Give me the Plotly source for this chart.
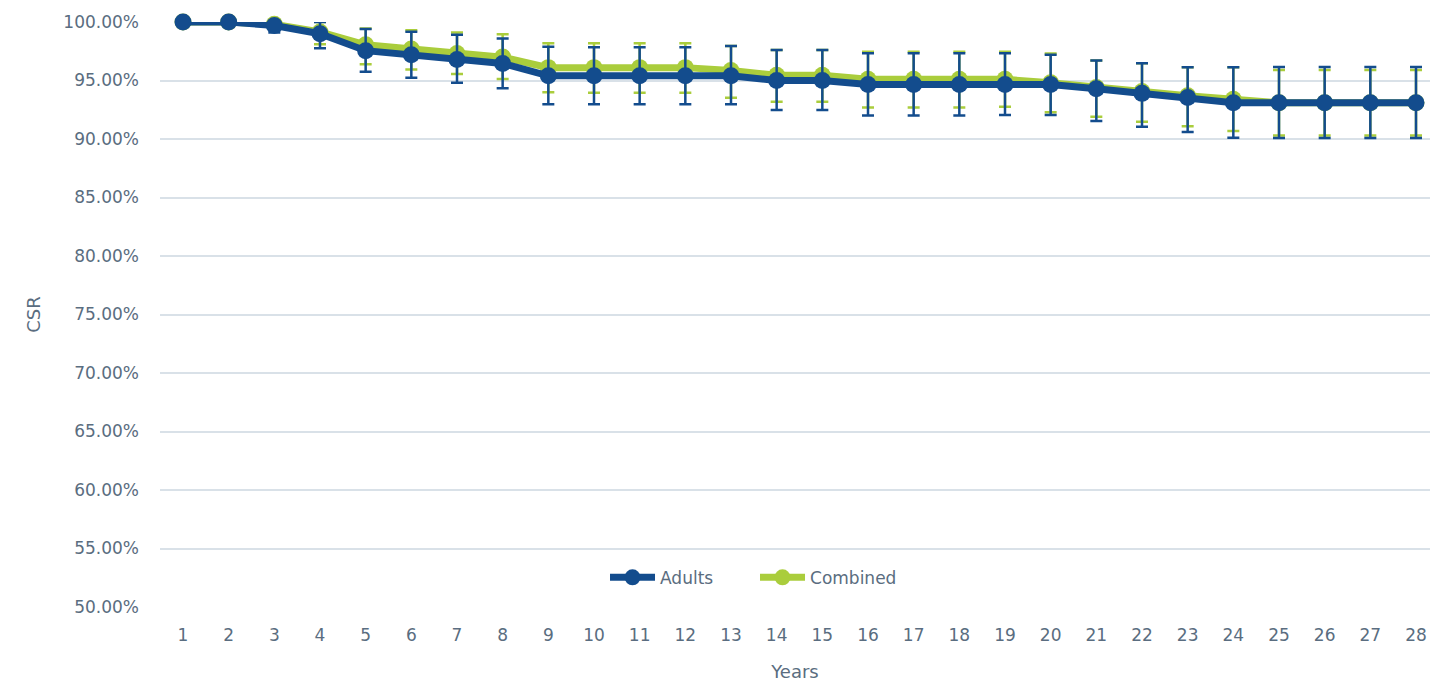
import plotly.graph_objects as go

years = list(range(1, 29))

adults = [100.0, 100.0, 99.7, 99.0, 97.55, 97.2, 96.8, 96.45, 95.4, 95.4, 95.4, 95.4, 95.4, 95.0,
          95.0, 94.65, 94.65, 94.65, 94.65, 94.65, 94.3, 93.9, 93.55, 93.1, 93.1, 93.1, 93.1, 93.1]
adults_upper = [100.0, 100.0, 100.0, 100.0, 99.4, 99.17, 98.9, 98.6, 97.89, 97.84, 97.84, 97.84, 97.95, 97.6,
                97.6, 97.32, 97.32, 97.32, 97.32, 97.2, 96.7, 96.47, 96.13, 96.13, 96.15, 96.15, 96.15, 96.15]
adults_lower = [100.0, 100.0, 99.1, 97.75, 95.75, 95.24, 94.8, 94.33, 92.97, 92.97, 92.97, 92.97, 92.97, 92.48,
                92.48, 92.0, 92.0, 92.0, 92.05, 92.05, 91.54, 91.05, 90.6, 90.1, 90.08, 90.08, 90.08, 90.08]

combined = [100.0, 100.0, 99.8, 99.15, 98.05, 97.7, 97.3, 97.0, 96.1, 96.1, 96.1, 96.1, 95.85, 95.45,
            95.45, 95.1, 95.1, 95.1, 95.1, 94.8, 94.4, 94.05, 93.7, 93.4, 93.1, 93.1, 93.1, 93.1]
combined_upper = [100.0, 100.0, 100.0, 100.0, 99.45, 99.3, 99.1, 98.95, 98.18, 98.18, 98.18, 98.18, 97.95, 97.6,
                  97.6, 97.46, 97.46, 97.46, 97.46, 97.3, 96.7, 96.47, 96.13, 96.13, 95.9, 95.9, 95.9, 95.9]
combined_lower = [100.0, 100.0, 99.4, 98.1, 96.38, 95.95, 95.56, 95.13, 93.99, 93.96, 93.96, 93.96, 93.53, 93.19,
                  93.19, 92.7, 92.7, 92.7, 92.76, 92.28, 91.9, 91.48, 91.1, 90.68, 90.3, 90.3, 90.3, 90.3]

y_ticks = [50, 55, 60, 65, 70, 75, 80, 85, 90, 95, 100]
y_tick_text = [f"{v:.2f}%" for v in y_ticks]

BLUE = "#134c8d"
GREEN = "#aacd3c"
TEXT = "#5a6d80"
GRID = "#d9e1e8"
FONT = "DejaVu Sans"


def err(vals, up, lo):
    return dict(type="data", symmetric=False,
                array=[u - v for u, v in zip(up, vals)],
                arrayminus=[v - l for v, l in zip(vals, lo)])


fig = go.Figure()
fig.add_trace(go.Scatter(
    x=years, y=combined, name="Combined", mode="lines+markers",
    line=dict(color=GREEN, width=7), marker=dict(color=GREEN, size=17),
    error_y=dict(**err(combined, combined_upper, combined_lower), color=GREEN, thickness=2.5, width=6),
    cliponaxis=False,
))
fig.add_trace(go.Scatter(
    x=years, y=adults, name="Adults", mode="lines+markers",
    line=dict(color=BLUE, width=7), marker=dict(color=BLUE, size=17),
    error_y=dict(**err(adults, adults_upper, adults_lower), color=BLUE, thickness=2.5, width=6),
    cliponaxis=False,
))

fig.update_layout(
    width=1430, height=685,
    margin=dict(l=160, r=0, t=22, b=78),
    paper_bgcolor="white", plot_bgcolor="white",
    font=dict(family=FONT, color=TEXT, size=17),
    showlegend=True,
    legend=dict(orientation="h", x=0.3504, xanchor="left", y=0.05, yanchor="middle",
                traceorder="reversed", font=dict(size=17, color=TEXT), bgcolor="rgba(0,0,0,0)",
                itemwidth=45, entrywidth=90, entrywidthmode="pixels"),
    xaxis=dict(range=[0.4964, 28.3066], tickmode="array", tickvals=years, automargin=False,
               ticktext=[str(y) for y in years], showgrid=False, zeroline=False, showline=False,
               ticks="", ticklabelstandoff=16, tickfont=dict(size=17, color=TEXT),
               title=dict(text="Years", font=dict(size=18, color=TEXT), standoff=21)),
    yaxis=dict(range=[50, 100], tickmode="array", tickvals=y_ticks, ticktext=y_tick_text, automargin=False,
               showgrid=True, gridcolor=GRID, gridwidth=2, zeroline=False, showline=False,
               ticks="", ticklabelstandoff=20, tickfont=dict(size=17, color=TEXT),
               title=dict(text="CSR", font=dict(size=18, color=TEXT), standoff=18)),
)

fig.write_html(
    "out.html",
    config={"displayModeBar": False},
    post_script="document.body.style.margin='0';document.body.style.overflow='hidden';",
)
